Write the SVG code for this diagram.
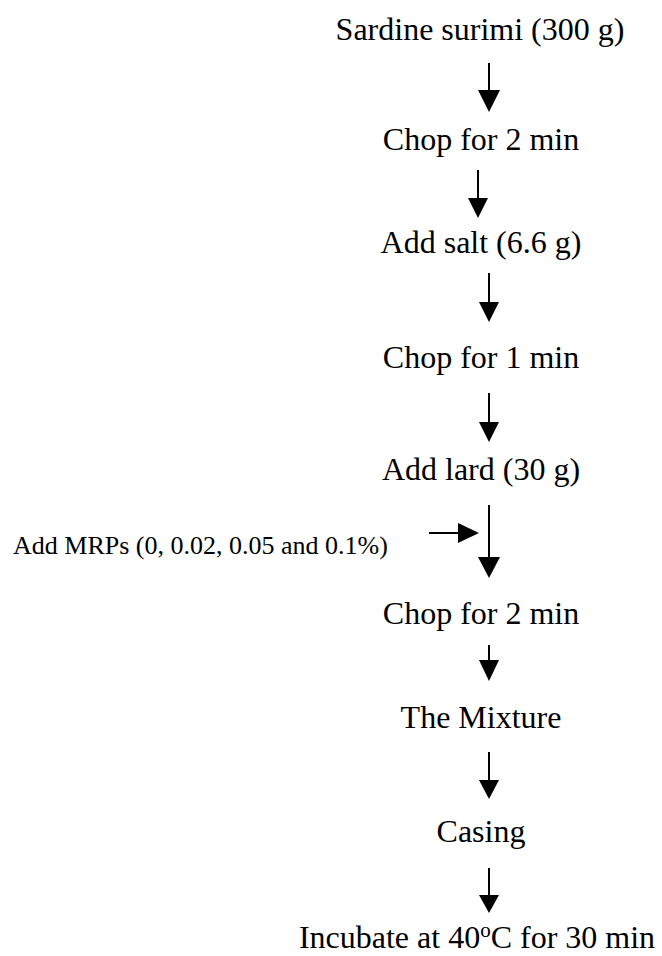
<svg xmlns="http://www.w3.org/2000/svg" width="662" height="956" viewBox="0 0 662 956">
<style>
.t{font-family:"Liberation Serif","Times New Roman",serif;font-size:32px;fill:#000;text-anchor:middle}
.s{font-family:"Liberation Serif","Times New Roman",serif;font-size:26px;fill:#000}
.c line{stroke:#000;stroke-width:2}
.c polygon{fill:#000}
</style>
<rect width="662" height="956" fill="#fff"/>
<g id="n1"><text class="t" x="480" y="40">Sardine surimi (300 g)</text></g>
<g id="n2"><text class="t" x="481" y="150">Chop for 2 min</text></g>
<g id="n3"><text class="t" x="481" y="253">Add salt (6.6 g)</text></g>
<g id="n4"><text class="t" x="481" y="368">Chop for 1 min</text></g>
<g id="n5"><text class="t" x="481" y="480">Add lard (30 g)</text></g>
<g id="n6"><text class="s" x="13" y="554">Add MRPs (0, 0.02, 0.05 and 0.1%)</text></g>
<g id="n7"><text class="t" x="481" y="624">Chop for 2 min</text></g>
<g id="n8"><text class="t" x="481" y="728">The Mixture</text></g>
<g id="n9"><text class="t" x="481" y="842">Casing</text></g>
<g id="n10"><text class="t" x="477" y="948">Incubate at 40<tspan dy="-11" font-size="21">o</tspan><tspan dy="11">C for 30 min</tspan></text></g>
<g id="connectors" class="c">
<line x1="489" y1="63" x2="489" y2="92"/><polygon points="478,90 500,90 489,112"/>
<line x1="478" y1="170" x2="478" y2="200"/><polygon points="468,198 488,198 478,218"/>
<line x1="489" y1="273" x2="489" y2="304"/><polygon points="479,302 499,302 489,322"/>
<line x1="489" y1="393" x2="489" y2="424"/><polygon points="479,422 499,422 489,442"/>
<line x1="489" y1="505" x2="489" y2="559"/><polygon points="478,557 500,557 489,578"/>
<line x1="429" y1="533" x2="460" y2="533"/><polygon points="458,523 458,543 479,533"/>
<line x1="489" y1="645" x2="489" y2="662"/><polygon points="479,660 499,660 489,681"/>
<line x1="489" y1="752" x2="489" y2="782"/><polygon points="479,780 499,780 489,799"/>
<line x1="489" y1="868" x2="489" y2="897"/><polygon points="479,895 499,895 489,913"/>
</g>
</svg>
